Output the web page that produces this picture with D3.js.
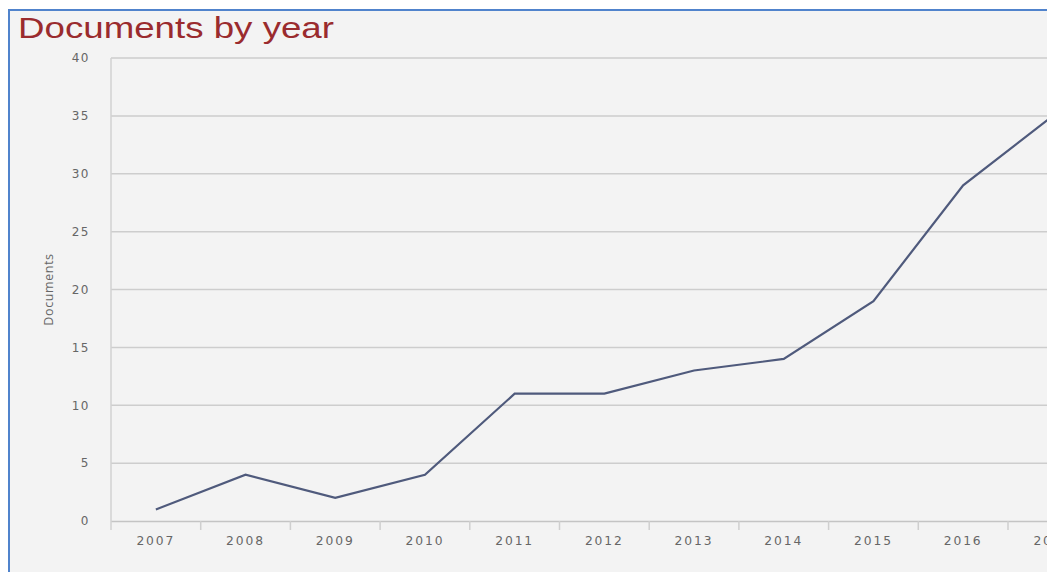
<!DOCTYPE html>
<html>
<head>
<meta charset="utf-8">
<script src="https://cdn.jsdelivr.net/npm/d3@7"></script>
<style>
  body { margin: 0; background: #fff; overflow: hidden; }
</style>
</head>
<body>
<div id="chart-area"></div>
<script>
// data
var years = ["2007", "2008", "2009", "2010", "2011", "2012", "2013", "2014", "2015", "2016", "2017"];
var documents = [1, 4, 2, 4, 11, 11, 13, 14, 19, 29, 35];
var yTicks = [0, 5, 10, 15, 20, 25, 30, 35, 40];

var W = 1047, H = 572;
var margin = { top: 58, left: 111, bottom: 51 };
var plotH = H - margin.top - margin.bottom;

var svg = d3.select("#chart-area").append("svg")
    .attr("width", W)
    .attr("height", H);

// panel with blue frame (right and bottom cut off)
svg.append("rect")
    .attr("x", 9).attr("y", 10)
    .attr("width", W).attr("height", H)
    .attr("fill", "#f3f3f3");
svg.append("path")
    .attr("d", "M9," + H + "V10H" + W)
    .attr("fill", "none")
    .attr("stroke", "#5083cc")
    .attr("stroke-width", 2);

svg.append("text")
    .attr("x", 18).attr("y", 38)
    .attr("font-family", "Liberation Sans, Arial, sans-serif")
    .attr("font-size", 30)
    .attr("textLength", 316)
    .attr("lengthAdjust", "spacingAndGlyphs")
    .attr("fill", "#9a2b2e")
    .text("Documents by year");

var g = svg.append("g")
    .attr("transform", "translate(" + margin.left + "," + margin.top + ")");

//x scale
var x = d3.scaleBand()
    .domain(years)
    .range([0, 89.7 * years.length]);

//y scale
var y = d3.scaleLinear()
    .domain([0, 40])
    .range([plotH, 0]);

// grid lines
g.selectAll("line.grid").data(yTicks.filter(function (d) { return d > 0; }))
    .enter().append("line")
    .attr("class", "grid")
    .attr("x1", 0).attr("x2", W)
    .attr("y1", function (d) { return y(d); })
    .attr("y2", function (d) { return y(d); })
    .attr("stroke", "#cdcdcd")
    .attr("stroke-width", 1.5);

// left plot border
g.append("line")
    .attr("x1", 0).attr("x2", 0)
    .attr("y1", 0).attr("y2", plotH + 9)
    .attr("stroke", "#d2d2d2")
    .attr("stroke-width", 1.5);

//y axis
var yAxis = g.append("g")
    .call(d3.axisLeft(y).tickValues(yTicks).tickSize(0).tickPadding(21));
yAxis.select(".domain").remove();
yAxis.selectAll("text")
    .attr("font-family", "DejaVu Sans, sans-serif")
    .attr("font-size", 12)
    .attr("letter-spacing", 1.5)
    .attr("fill", "#666");

//x axis
var xAxis = g.append("g")
    .attr("transform", "translate(0," + plotH + ")")
    .call(d3.axisBottom(x).tickSize(0).tickPadding(15));
xAxis.select(".domain")
    .attr("stroke", "#c4c4c4")
    .attr("stroke-width", 1.5);
xAxis.selectAll("text")
    .attr("font-family", "DejaVu Sans, sans-serif")
    .attr("font-size", 12.3)
    .attr("letter-spacing", 1.9)
    .attr("fill", "#666");

// tick marks at band edges
xAxis.selectAll("line.edge").data(years.slice(1))
    .enter().append("line")
    .attr("class", "edge")
    .attr("x1", function (d) { return x(d); })
    .attr("x2", function (d) { return x(d); })
    .attr("y1", 0).attr("y2", 9)
    .attr("stroke", "#cfcfcf")
    .attr("stroke-width", 1.5);

// y axis title
g.append("text")
    .attr("transform", "translate(-58," + (plotH / 2) + ") rotate(-90)")
    .attr("text-anchor", "middle")
    .attr("font-family", "Open Sans, sans-serif")
    .attr("font-size", 12.5)
    .attr("letter-spacing", 0.6)
    .attr("fill", "#666")
    .text("Documents");

// the line
var line = d3.line()
    .x(function (d, i) { return x(years[i]) + x.bandwidth() / 2; })
    .y(function (d) { return y(d); });

g.append("path")
    .datum(documents)
    .attr("d", line)
    .attr("fill", "none")
    .attr("stroke", "#4f5a7c")
    .attr("stroke-width", 2.2);
</script>
</body>
</html>
